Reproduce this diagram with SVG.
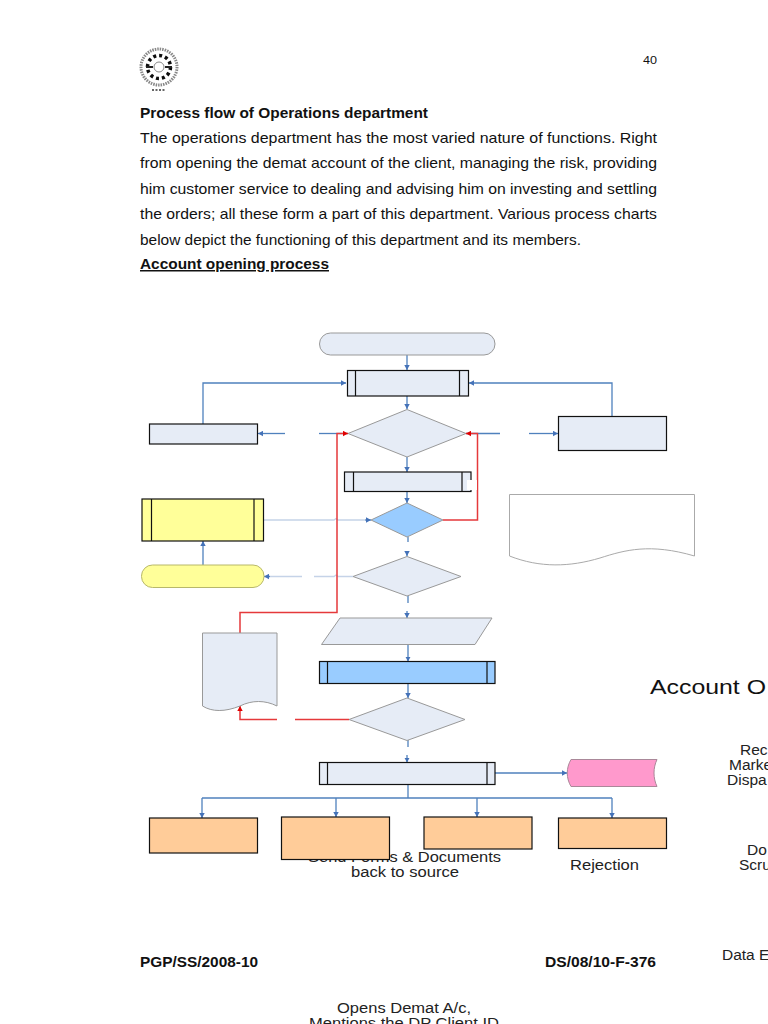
<svg xmlns="http://www.w3.org/2000/svg" width="768" height="1024" viewBox="0 0 768 1024">
<style>
text{font-family:"Liberation Sans",Arial,sans-serif;fill:#111}
.b{font-size:15px}
.bd{font-size:15px;font-weight:700}
.c{font-size:15.500px;text-anchor:middle;fill:#222}
.f{font-size:15.500px;fill:#222}
.n{stroke:#111;stroke-width:1.2}
.g{stroke:#999;stroke-width:1}
.lt{fill:#e6ecf6}
.bl{fill:#99ccff}
.ye{fill:#ffff99}
.or{fill:#ffcc99}
.i{fill:none;stroke:#111;stroke-width:1.2}
.cb{fill:none;stroke:#4f81bd;stroke-width:1.3}
.cp{fill:none;stroke:#c5d3e8;stroke-width:1.3}
.cr{fill:none;stroke:#e5393b;stroke-width:1.5}
</style>
<defs>
<filter id="soft" x="-10%" y="-10%" width="120%" height="120%"><feGaussianBlur stdDeviation="0.6"/></filter>
<marker id="ab" markerWidth="6" markerHeight="6" refX="5" refY="3" orient="auto" markerUnits="userSpaceOnUse"><path d="M0 .3L5 3L0 5.7z" fill="#4472b8"/></marker>
<marker id="ar" markerWidth="6" markerHeight="6" refX="5" refY="3" orient="auto" markerUnits="userSpaceOnUse"><path d="M0 .3L5 3L0 5.7z" fill="#e00000"/></marker>
</defs>
<rect width="768" height="1024" fill="#fff"/>

<g id="logo" fill="none" stroke="#333" filter="url(#soft)">
<circle cx="159" cy="67" r="18" stroke="#888" stroke-width="3" stroke-dasharray="1.5 1"/>
<circle cx="159" cy="67" r="11.500" stroke="#111" stroke-width="3.500" stroke-dasharray="3 3"/>
<circle cx="159" cy="67" r="5" stroke="#888" stroke-width="1"/>
<path d="M146 67H153M165 67H172" stroke="#222" stroke-width="2"/>
<path d="M152 90H166" stroke="#666" stroke-width="2" stroke-dasharray="2 1.5"/>
</g>

<g id="page-text">
<text x="643" y="64" font-size="11.500" textLength="14" lengthAdjust="spacingAndGlyphs">40</text>
<text class="bd" x="140" y="118" textLength="288" lengthAdjust="spacingAndGlyphs">Process flow of Operations department</text>
<text class="b" x="140" y="143" textLength="517" lengthAdjust="spacingAndGlyphs">The operations department has the most varied nature of functions. Right</text>
<text class="b" x="140" y="168" textLength="517" lengthAdjust="spacingAndGlyphs">from opening the demat account of the client, managing the risk, providing</text>
<text class="b" x="140" y="194" textLength="517" lengthAdjust="spacingAndGlyphs">him customer service to dealing and advising him on investing and settling</text>
<text class="b" x="140" y="219" textLength="517" lengthAdjust="spacingAndGlyphs">the orders; all these form a part of this department. Various process charts</text>
<text class="b" x="140" y="245" textLength="441" lengthAdjust="spacingAndGlyphs">below depict the functioning of this department and its members.</text>
<text class="bd" x="140" y="269" text-decoration="underline" textLength="189" lengthAdjust="spacingAndGlyphs">Account opening process</text>
<text class="bd" x="140" y="967" textLength="118" lengthAdjust="spacingAndGlyphs">PGP/SS/2008-10</text>
<text class="bd" x="545" y="967" textLength="111" lengthAdjust="spacingAndGlyphs">DS/08/10-F-376</text>
</g>

<g id="stray-labels">
<text x="650" y="694" font-size="20.500" fill="#222" textLength="116" lengthAdjust="spacingAndGlyphs">Account O</text>
<text class="f" x="740" y="755">Rec</text>
<text class="f" x="729" y="770">Marke</text>
<text class="f" x="727" y="785">Dispa</text>
<text class="f" x="747" y="855">Do</text>
<text class="f" x="739" y="870">Scru</text>
<text class="f" x="722" y="960">Data E</text>
<text x="308" y="862" class="f" textLength="193" lengthAdjust="spacingAndGlyphs">Send Forms &amp; Documents</text>
<text x="351" y="877" class="f" textLength="108" lengthAdjust="spacingAndGlyphs">back to source</text>
<text x="570" y="870" class="f" textLength="69" lengthAdjust="spacingAndGlyphs">Rejection</text>
<text x="337" y="1013" class="f" textLength="134" lengthAdjust="spacingAndGlyphs">Opens Demat A/c,</text>
<text x="309" y="1028" class="f" textLength="190" lengthAdjust="spacingAndGlyphs">Mentions the DP Client ID</text>
</g>

<g id="connectors">
<path class="cb" marker-end="url(#ab)" d="M407 355V370"/>
<path class="cb" marker-end="url(#ab)" d="M203 424V383H346"/>
<path class="cb" marker-end="url(#ab)" d="M612 416V383H469"/>
<path class="cb" marker-end="url(#ab)" d="M407 396V409"/>
<path class="cb" marker-end="url(#ab)" d="M285 433.500H258"/>
<path class="cb" d="M319 433.500H348"/>
<path class="cb" d="M466 433.500H500"/>
<path class="cb" marker-end="url(#ab)" d="M529 433.500H558"/>
<path class="cb" marker-end="url(#ab)" d="M407 457V472"/>
<path class="cb" marker-end="url(#ab)" d="M407 491.500V503"/>
<path class="cp" d="M264 520H334L336 518.500L338 520H365"/>
<path class="cb" marker-end="url(#ab)" d="M365 520H371"/>
<path class="cb" d="M408 537V542"/>
<path class="cb" marker-end="url(#ab)" d="M407 551V556"/>
<path class="cb" marker-end="url(#ab)" d="M203 565V541"/>
<path class="cp" d="M302 576.500H268"/>
<path class="cb" marker-end="url(#ab)" d="M270 576.500H264"/>
<path class="cp" d="M314 576.500H334L336 575L338 576.500H353"/>
<path class="cb" d="M408 596V603"/>
<path class="cb" marker-end="url(#ab)" d="M407 611V618"/>
<path class="cb" marker-end="url(#ab)" d="M408 644.500V661.500"/>
<path class="cb" marker-end="url(#ab)" d="M408 683.500V698"/>
<path class="cb" d="M408 740V747"/>
<path class="cb" marker-end="url(#ab)" d="M407 755V762.500"/>
<path class="cb" marker-end="url(#ab)" d="M495 773H567"/>
<path class="cb" d="M408 784.500V798"/>
<path class="cb" d="M202 798H612"/>
<path class="cb" marker-end="url(#ab)" d="M202 798V818"/>
<path class="cb" marker-end="url(#ab)" d="M336 798V817"/>
<path class="cb" marker-end="url(#ab)" d="M477 798V817"/>
<path class="cb" marker-end="url(#ab)" d="M612 798V818"/>
<path class="cr" marker-end="url(#ar)" d="M240 633V612.500H337V433.500H348"/>
<path class="cr" marker-end="url(#ar)" d="M443 520H477.500V433.500H466"/>
<path class="cr" marker-end="url(#ar)" d="M277 719.500H240V706"/>
<path class="cr" d="M295 719.500H349"/>
</g>

<g id="n-start"><rect class="g lt" x="319.500" y="333" width="175.500" height="22" rx="11"/></g>
<g id="n-p1"><rect class="n lt" x="347.500" y="370.500" width="121" height="25.500"/><path class="i" d="M355.500 370.500V396M459.500 370.500V396"/></g>
<g id="n-left"><rect class="n lt" x="149.500" y="424" width="108" height="20"/></g>
<g id="n-right"><rect class="n lt" x="558.500" y="416.500" width="108" height="34"/></g>
<g id="n-d1"><path class="g lt" d="M348 433.500L407 409.500L466 433.500L407 457z"/></g>
<g id="n-p2"><rect class="n lt" x="344.500" y="472" width="126.500" height="19.500"/><path class="i" d="M353.500 472V491.500M462 472V491.500"/><rect x="467" y="480" width="10" height="10" fill="#fff"/></g>
<g id="n-d2"><path class="g bl" d="M371 520L407 503L443 520L407 537z"/></g>
<g id="n-note"><path d="M509.500 494.500H694.500V556C650 543 625 550 600 558C570 567 540 568 509.500 556z" fill="#fff" stroke="#aaa"/></g>
<g id="n-yp"><rect class="n ye" x="142" y="499" width="121.500" height="42"/><path class="i" d="M151.500 499V541M254 499V541"/></g>
<g id="n-yt"><rect x="141.500" y="565" width="122.500" height="22.500" rx="11" class="ye" stroke="#b8b86a"/></g>
<g id="n-d3"><path class="g lt" d="M353 576.500L407 556.500L461 576.500L407 596z"/></g>
<g id="n-io"><path class="g lt" d="M340 618H492L475 644.500H321.500z"/></g>
<g id="n-doc"><path class="g lt" d="M202.500 633H277V706C265 700 252 700 240 706C225 712 212 712 202.500 706z"/></g>
<g id="n-bp"><rect class="n bl" x="319.500" y="661.500" width="175.500" height="22"/><path class="i" d="M327.500 661.500V683.500M487 661.500V683.500"/></g>
<g id="n-d4"><path class="g lt" d="M349 719.500L407 698L465 719.500L407 740.500z"/></g>
<g id="n-p3"><rect class="n lt" x="319.500" y="762.500" width="175.500" height="22"/><path class="i" d="M327.500 762.500V784.500M487 762.500V784.500"/></g>
<g id="n-pink"><path d="M571 759.500H657C653 768 653 778 657 786.500H571C566 778 566 768 571 759.500z" fill="#ff99cc" stroke="#aa8899"/></g>
<g id="n-o1"><rect class="n or" x="149.500" y="818" width="108" height="35"/></g>
<g id="n-o2"><rect class="n or" x="281.500" y="817" width="108" height="42.500"/></g>
<g id="n-o3"><rect class="n or" x="424" y="817" width="108" height="32"/></g>
<g id="n-o4"><rect class="n or" x="558.500" y="818" width="108" height="30.500"/></g>
</svg>
